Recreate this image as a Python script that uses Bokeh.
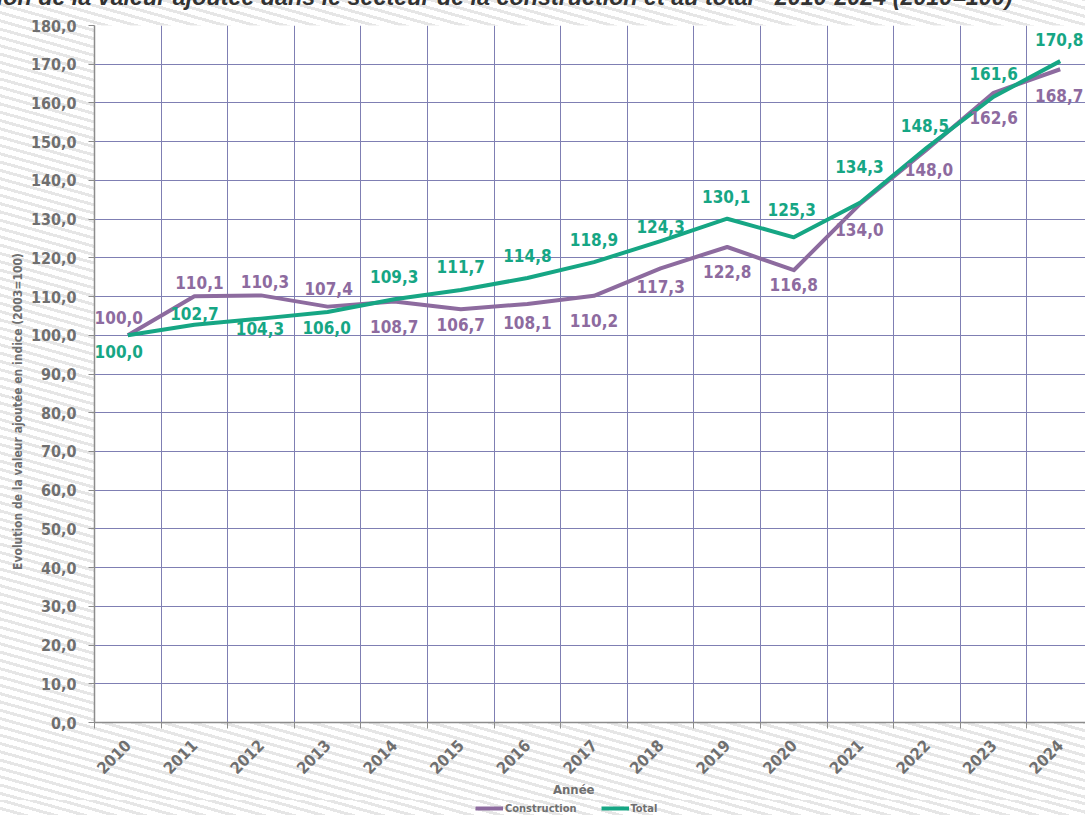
import math
from bokeh.plotting import figure
from bokeh.layouts import column
from bokeh.models import (ColumnDataSource, Range1d, FixedTicker, CustomJSTickFormatter,
                          Legend, LegendItem)
from bokeh.core.properties import value
from bokeh.embed import file_html
from bokeh.resources import INLINE

# ---------------- data ----------------
years = ["2010", "2011", "2012", "2013", "2014", "2015", "2016", "2017",
         "2018", "2019", "2020", "2021", "2022", "2023", "2024"]
construction = [100.0, 110.1, 110.3, 107.4, 108.7, 106.7, 108.1, 110.2,
                117.3, 122.8, 116.8, 134.0, 148.0, 162.6, 168.7]
total = [100.0, 102.7, 104.3, 106.0, 109.3, 111.7, 114.8, 118.9,
         124.3, 130.1, 125.3, 134.3, 148.5, 161.6, 170.8]
y_ticks = [0, 10, 20, 30, 40, 50, 60, 70, 80, 90, 100, 110, 120, 130, 140, 150, 160, 170, 180]
y_tick_labels = ["0,0", "10,0", "20,0", "30,0", "40,0", "50,0", "60,0", "70,0", "80,0", "90,0",
                 "100,0", "110,0", "120,0", "130,0", "140,0", "150,0", "160,0", "170,0", "180,0"]

title_text = "Évolution de la valeur ajoutée dans le secteur de la construction et au total - 2010-2024 (2010=100)"
y_title = "Evolution de la valeur ajoutée en indice (2003=100)"
x_title = "Année"
series_names = ["Construction", "Total"]

# label placement (pixel offsets, styling only)
cons_dx = [-9, 5, 4, 1, 0, 0, 0, 0, 0, 0, 0, -1, 2, 0, -1]
cons_dy = [-18, -14, -14, -18, 25, 15, 19, 25, 18, 25, 14, 26, 20, 25, 26]
tot_dx = [-9, 0, -1, -1, 0, 0, 0, 0, 0, -1, -2, -1, -2, 0, -1]
tot_dy = [16, -11, 10, 15, -23, -23, -22, -23, -15, -22, -28, -36, -22, -23, -22]

# ---------------- styles ----------------
PURPLE = "#8d6b9f"
GREEN = "#16a684"
GRAY = "#6f6f6f"
GRID = "#7f7fb3"
AXIS = "#8c8c8c"
FONT = "DejaVu Sans Condensed"
NBSP = "\u00a0"
SHIFT = 40      # px of canvas hidden above the window (title is cut as in the reference)
LEG_H = 15      # height of the legend strip at the bottom
STRIPES = "repeating-linear-gradient(15.6deg, #ffffff 0px, #ffffff 5px, #e6e6e6 5px, #e6e6e6 8px)"

xs = [i + 0.5 for i in range(len(years))]
bounds = list(range(len(years) + 1))

def fmt(v):
    return f"{v:.1f}".replace(".", ",")

H = 815 - LEG_H + SHIFT
p = figure(width=1085, height=H,
           x_range=Range1d(0, 991 / 66.6), y_range=Range1d(0, 180),
           output_backend="svg", toolbar_location=None,
           min_border_left=94, min_border_right=0, min_border_top=25 + SHIFT,
           min_border_bottom=H - (724 + SHIFT),
           border_fill_color=None, background_fill_color="white",
           outline_line_color=None,
           styles={"margin-top": f"-{SHIFT}px", "background": STRIPES})

# title (only its lower part is visible, as in the reference)
p.title.text = title_text
p.title.align = "right"
p.title.offset = 73
p.title.standoff = 32
p.title.text_font = "Liberation Sans"
p.title.text_font_style = "bold italic"
p.title.text_font_size = "23.3px"
p.title.text_color = "#333333"

# grids
p.xgrid.ticker = FixedTicker(ticks=bounds)
p.ygrid.ticker = FixedTicker(ticks=y_ticks)
p.grid.grid_line_color = GRID
p.grid.grid_line_width = 1

# x axis
p.xaxis.ticker = FixedTicker(ticks=xs, minor_ticks=bounds)
p.xaxis.formatter = CustomJSTickFormatter(args=dict(years=years),
                                          code="return years[Math.floor(tick)] || '';")
p.xaxis.major_tick_line_color = None
p.xaxis.minor_tick_out = 6
p.xaxis.minor_tick_in = 0
p.xaxis.minor_tick_line_color = AXIS
p.xaxis.axis_line_color = AXIS
p.xaxis.axis_line_width = 1.5
p.xaxis.major_label_orientation = math.pi / 4
p.xaxis.major_label_standoff = 14
p.xaxis.major_label_text_font = FONT
p.xaxis.major_label_text_font_style = "bold"
p.xaxis.major_label_text_font_size = "16px"
p.xaxis.major_label_text_color = GRAY
p.xaxis.axis_label = x_title + NBSP * 8
p.xaxis.axis_label_standoff = 0
p.xaxis.axis_label_text_font = FONT
p.xaxis.axis_label_text_font_style = "bold"
p.xaxis.axis_label_text_font_size = "13px"
p.xaxis.axis_label_text_color = GRAY

# y axis
p.yaxis.ticker = FixedTicker(ticks=y_ticks)
p.yaxis.major_label_overrides = {t: l for t, l in zip(y_ticks, y_tick_labels)}
p.yaxis.major_tick_out = 6
p.yaxis.major_tick_in = 0
p.yaxis.minor_tick_line_color = None
p.yaxis.major_tick_line_color = AXIS
p.yaxis.axis_line_color = AXIS
p.yaxis.axis_line_width = 1.5
p.yaxis.major_label_standoff = 12
p.yaxis.major_label_text_font = FONT
p.yaxis.major_label_text_font_style = "bold"
p.yaxis.major_label_text_font_size = "16px"
p.yaxis.major_label_text_color = GRAY
p.yaxis.axis_label = y_title + NBSP * 20
p.yaxis.axis_label_standoff = 3
p.yaxis.axis_label_text_font = FONT
p.yaxis.axis_label_text_font_style = "bold"
p.yaxis.axis_label_text_font_size = "12px"
p.yaxis.axis_label_text_color = GRAY

# lines
src_c = ColumnDataSource(dict(x=xs, y=construction, label=[fmt(v) for v in construction],
                              dx=cons_dx, dy=cons_dy))
src_t = ColumnDataSource(dict(x=xs, y=total, label=[fmt(v) for v in total],
                              dx=tot_dx, dy=tot_dy))
p.line("x", "y", source=src_c, line_color=PURPLE, line_width=4, line_join="round")
p.line("x", "y", source=src_t, line_color=GREEN, line_width=4, line_join="round")

for src, col in ((src_c, PURPLE), (src_t, GREEN)):
    p.text(x="x", y="y", text="label", x_offset="dx", y_offset="dy", source=src,
           text_font=value(FONT), text_font_style="bold", text_font_size="17px",
           text_color=col, text_align="center", text_baseline="middle")

# legend strip at the bottom (separate small figure so nothing is clipped);
# its frame is aligned with the main frame, so the legend position is frame-relative
pl = figure(width=1085, height=LEG_H, x_range=Range1d(0, 1), y_range=Range1d(0, 1),
            output_backend="svg", toolbar_location=None,
            x_axis_location=None, y_axis_location=None,
            min_border_left=0, min_border_right=0, min_border_top=0, min_border_bottom=0,
            border_fill_color=None, background_fill_color=None, outline_line_color=None,
            styles={"background": STRIPES})
pl.grid.visible = False
# same series, outside this strip's ranges: only their legend swatches show
lc = pl.line(xs, construction, line_color=PURPLE, line_width=4)
lt = pl.line(xs, total, line_color=GREEN, line_width=4)
legend = Legend(items=[LegendItem(label=series_names[0], renderers=[lc]),
                       LegendItem(label=series_names[1], renderers=[lt])],
                orientation="horizontal", location=(381, 0),
                background_fill_alpha=0, border_line_color=None,
                padding=0, margin=0, spacing=24, glyph_width=28, glyph_height=14,
                label_standoff=2, label_height=14,
                label_text_font=FONT, label_text_font_style="bold",
                label_text_font_size="11px", label_text_color=GRAY)
pl.add_layout(legend, "center")

layout = column(p, pl, spacing=0)

open("out.html", "w").write(file_html(layout, INLINE))
